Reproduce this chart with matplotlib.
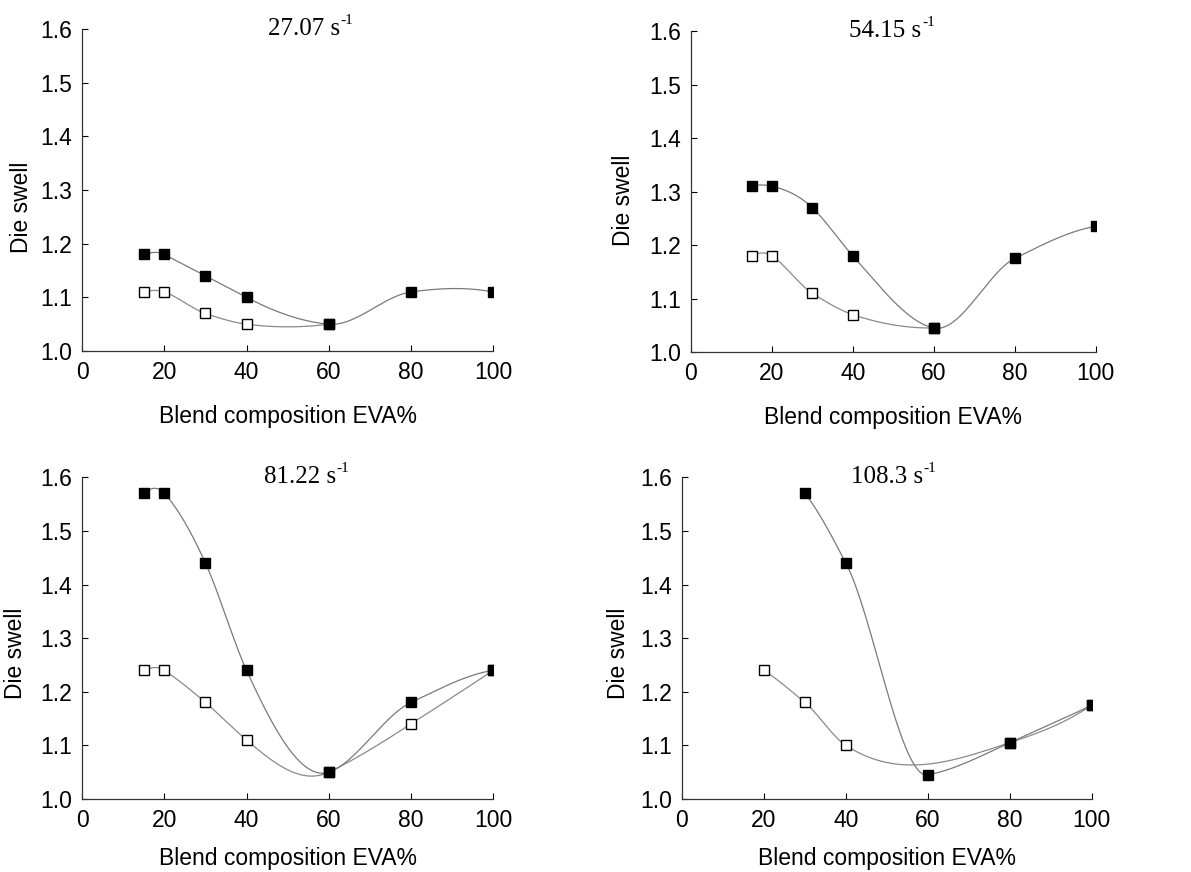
import numpy as np
import matplotlib
matplotlib.use("Agg")
import matplotlib.pyplot as plt
from matplotlib.ticker import FormatStrFormatter

# die swell vs blend composition, four shear rates
rates = ["27.07", "54.15", "81.22", "108.3"]

# filled squares
x_filled = [[15, 20, 30, 40, 60, 80, 100],
            [15, 20, 30, 40, 60, 80, 100],
            [15, 20, 30, 40, 60, 80, 100],
            [30, 40, 60, 80, 100]]
y_filled = [[1.18, 1.18, 1.14, 1.10, 1.05, 1.11, 1.11],
            [1.31, 1.31, 1.27, 1.18, 1.045, 1.175, 1.235],
            [1.57, 1.57, 1.44, 1.24, 1.05, 1.18, 1.24],
            [1.57, 1.44, 1.045, 1.105, 1.175]]

# open squares
x_open = [[15, 20, 30, 40, 60],
          [15, 20, 30, 40, 60],
          [15, 20, 30, 40, 60, 80, 100],
          [20, 30, 40, 80, 100]]
y_open = [[1.11, 1.11, 1.07, 1.05, 1.05],
          [1.18, 1.18, 1.11, 1.07, 1.045],
          [1.24, 1.24, 1.18, 1.11, 1.05, 1.14, 1.24],
          [1.24, 1.18, 1.10, 1.105, 1.175]]

title_x = [54, 48, 53, 50]

# axes boxes [left, bottom, width, height]
boxes = [[0.069, 0.5975, 0.345, 0.369],
         [0.580, 0.5963, 0.340, 0.368],
         [0.069, 0.0837, 0.345, 0.369],
         [0.5726, 0.0837, 0.344, 0.369]]
ylabel_pos = [(-0.119, 0.447), (-0.138, 0.473), (-0.134, 0.453), (-0.127, 0.453)]
xlabel_pad = [15, 15, 11, 11]


def akima(x, y, n=300):
    # Akima interpolation through the points
    x = np.asarray(x, float)
    y = np.asarray(y, float)
    s = np.diff(y) / np.diff(x)
    # two extra slopes at each end
    s = np.concatenate([[3 * s[0] - 2 * s[1], 2 * s[0] - s[1]], s,
                        [2 * s[-1] - s[-2], 3 * s[-1] - 2 * s[-2]]])
    t = np.zeros(len(x))
    for i in range(len(x)):
        w1 = abs(s[i + 3] - s[i + 2])
        w2 = abs(s[i + 1] - s[i])
        if w1 + w2 == 0:
            t[i] = 0.5 * (s[i + 1] + s[i + 2])
        else:
            t[i] = (w1 * s[i + 1] + w2 * s[i + 2]) / (w1 + w2)
    xs = np.linspace(x[0], x[-1], n)
    idx = np.clip(np.searchsorted(x, xs) - 1, 0, len(x) - 2)
    h = x[idx + 1] - x[idx]
    u = (xs - x[idx]) / h
    h00 = 2 * u ** 3 - 3 * u ** 2 + 1
    h10 = u ** 3 - 2 * u ** 2 + u
    h01 = -2 * u ** 3 + 3 * u ** 2
    h11 = u ** 3 - u ** 2
    ys = h00 * y[idx] + h10 * h * t[idx] + h01 * y[idx + 1] + h11 * h * t[idx + 1]
    return xs, ys


plt.rcParams['font.family'] = ['Liberation Sans', 'DejaVu Sans']

fig = plt.figure(figsize=(11.91, 8.72), dpi=100)

for i in range(4):
    ax = fig.add_axes(boxes[i])
    xs, ys = akima(x_open[i], y_open[i])
    ax.plot(xs, ys, color='#8a8a8a', lw=0.9, zorder=1)
    xs, ys = akima(x_filled[i], y_filled[i])
    ax.plot(xs, ys, color='#7a7a7a', lw=0.9, zorder=1)
    ax.plot(x_open[i], y_open[i], 's', ms=6.5, mfc='white', mec='black', mew=1.0,
            ls='none', zorder=2)
    ax.plot(x_filled[i], y_filled[i], 's', ms=6.5, mfc='black', mec='black',
            ls='none', zorder=3)

    ax.set_xlim(0, 100)
    ax.set_ylim(1.0, 1.6)
    ax.set_xticks(range(0, 101, 20))
    ax.set_yticks(np.arange(1.0, 1.61, 0.1))
    ax.yaxis.set_major_formatter(FormatStrFormatter('%.1f'))
    ax.spines['top'].set_visible(False)
    ax.spines['right'].set_visible(False)
    for side in ['left', 'bottom']:
        ax.spines[side].set_linewidth(0.9)
        ax.spines[side].set_color('#333333')
    ax.tick_params(direction='in', length=4, width=0.8, labelsize=16.5, pad=7)
    ax.set_xlabel('Blend composition EVA%', fontsize=16.5, labelpad=xlabel_pad[i])
    ax.set_ylabel('Die swell', fontsize=16.5)
    ax.yaxis.set_label_coords(*ylabel_pos[i])

    # shear rate label with a small superscript
    t = ax.text(title_x[i], 1.6, rates[i] + ' s', ha='center', va='center',
                fontsize=18, family='Liberation Serif')
    ax.annotate('-1', xy=(1, 1), xycoords=t, ha='left', va='top',
                xytext=(0.5, 3), textcoords='offset points',
                fontsize=11, family='Liberation Serif')
    ax.patch.set_visible(False)

fig.savefig('out.png', dpi=100)
